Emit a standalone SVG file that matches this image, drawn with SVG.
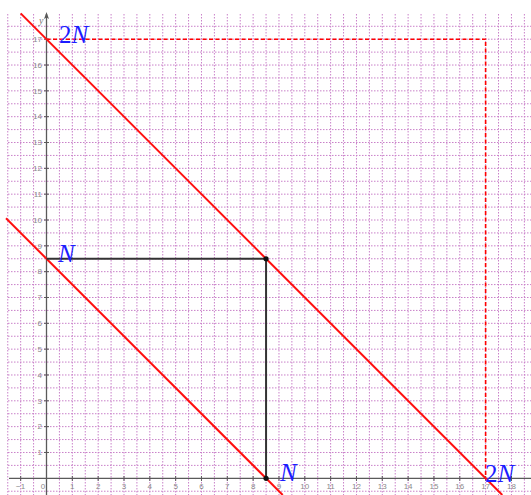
<svg xmlns="http://www.w3.org/2000/svg" width="531" height="495" viewBox="0 0 531 495">
<style>
.grid{fill:none;stroke:#c980c9;stroke-width:1;stroke-dasharray:1.5 1.5}
.axis{fill:none;stroke:#5a5a5a;stroke-width:1.3}
.tick{fill:none;stroke:#5a5a5a;stroke-width:1}
.tl{font-family:"Liberation Sans",Arial,sans-serif;font-size:8px;fill:#8a8a8a}
.red{fill:none;stroke:#ff0f0f;stroke-width:2}
.dash{fill:none;stroke:#ff0000;stroke-width:1.6;stroke-dasharray:4 2.5}
.blk{fill:none;stroke:#333;stroke-width:2}
.lbl{font-family:"Liberation Serif","Times New Roman",serif;font-size:25px;fill:#1c1cff}
.it{font-style:italic}
</style>
<rect width="531" height="495" fill="#ffffff"/>
<g id="grid">
<path class="grid" d="M7.76 14V495M20.67 14V495M33.59 14V495M59.42 14V495M72.33 14V495M85.25 14V495M98.16 14V495M111.08 14V495M124 14V495M136.91 14V495M149.82 14V495M162.74 14V495M175.65 14V495M188.57 14V495M201.48 14V495M214.4 14V495M227.31 14V495M240.23 14V495M253.14 14V495M266.06 14V495M278.97 14V495M291.89 14V495M304.8 14V495M317.72 14V495M330.63 14V495M343.55 14V495M356.46 14V495M369.38 14V495M382.29 14V495M395.21 14V495M408.12 14V495M421.04 14V495M433.95 14V495M446.87 14V495M459.78 14V495M472.7 14V495M485.61 14V495M498.53 14V495M511.44 14V495M524.36 14V495"/>
<path class="grid" d="M8 491.22H531M8 465.39H531M8 452.47H531M8 439.56H531M8 426.64H531M8 413.73H531M8 400.81H531M8 387.9H531M8 374.98H531M8 362.07H531M8 349.15H531M8 336.24H531M8 323.32H531M8 310.41H531M8 297.49H531M8 284.58H531M8 271.66H531M8 258.75H531M8 245.83H531M8 232.92H531M8 220H531M8 207.09H531M8 194.17H531M8 181.26H531M8 168.34H531M8 155.43H531M8 142.51H531M8 129.6H531M8 116.68H531M8 103.77H531M8 90.85H531M8 77.94H531M8 65.02H531M8 52.11H531M8 39.19H531M8 26.28H531"/>
</g>
<g id="axes">
<path class="axis" d="M9 478.3H531M46.5 495V14"/>
<path d="M46.5 12L44 19L46.5 17.5L49 19Z" fill="#5a5a5a"/>
<text x="39" y="24" font-family="Liberation Serif,serif" font-style="italic" font-size="10" fill="#777">y</text>
<path class="tick" d="M20.67 476V481M72.33 476V481M98.16 476V481M124 476V481M149.82 476V481M175.65 476V481M201.48 476V481M227.31 476V481M253.14 476V481M278.97 476V481M304.8 476V481M330.63 476V481M356.46 476V481M382.29 476V481M408.12 476V481M433.95 476V481M459.78 476V481M485.61 476V481M511.44 476V481"/>
<path class="tick" d="M44 452.47H49M44 426.64H49M44 400.81H49M44 374.98H49M44 349.15H49M44 323.32H49M44 297.49H49M44 271.66H49M44 245.83H49M44 220H49M44 194.17H49M44 168.34H49M44 142.51H49M44 116.68H49M44 90.85H49M44 65.02H49M44 39.19H49"/>
<g class="tl" text-anchor="middle">
<text x="20.67" y="489">−1</text><text x="43" y="489">0</text>
<text x="72.33" y="489">1</text><text x="98.16" y="489">2</text><text x="124" y="489">3</text><text x="149.82" y="489">4</text><text x="175.65" y="489">5</text><text x="201.48" y="489">6</text><text x="227.31" y="489">7</text><text x="253.14" y="489">8</text><text x="278.97" y="489">9</text><text x="304.8" y="489">10</text><text x="330.63" y="489">11</text><text x="356.46" y="489">12</text><text x="382.29" y="489">13</text><text x="408.12" y="489">14</text><text x="433.95" y="489">15</text><text x="459.78" y="489">16</text><text x="485.61" y="489">17</text><text x="511.44" y="489">18</text>
</g>
<g class="tl" text-anchor="end">
<text x="42" y="455.3">1</text><text x="42" y="429.4">2</text><text x="42" y="403.6">3</text><text x="42" y="377.8">4</text><text x="42" y="351.9">5</text><text x="42" y="326.1">6</text><text x="42" y="300.3">7</text><text x="42" y="274.4">8</text><text x="42" y="248.6">9</text><text x="42" y="222.8">10</text><text x="42" y="196.9">11</text><text x="42" y="171.1">12</text><text x="42" y="145.3">13</text><text x="42" y="119.4">14</text><text x="42" y="93.6">15</text><text x="42" y="67.8">16</text><text x="42" y="42">17</text>
</g>
</g>
<g id="connectors">
<path class="dash" d="M46.5 39.19H485.61V478.3"/>
<path class="red" d="M20.67 13.36L502.3 495"/>
<path class="red" d="M6 218.24L282.76 495"/>
<path class="blk" d="M46.5 258.75H266.06V478.3"/>
</g>
<g id="point-NN"><circle cx="266.06" cy="258.75" r="2.6" fill="#111"/></g>
<g id="point-N0"><circle cx="266.06" cy="478.3" r="2.6" fill="#111"/></g>
<g id="label-2N-y"><text class="lbl" x="59" y="43">2<tspan class="it">N</tspan></text></g>
<g id="label-N-y"><text class="lbl it" x="58" y="262">N</text></g>
<g id="label-N-x"><text class="lbl it" x="280" y="481">N</text></g>
<g id="label-2N-x"><text class="lbl" x="485" y="482">2<tspan class="it">N</tspan></text></g>
</svg>
